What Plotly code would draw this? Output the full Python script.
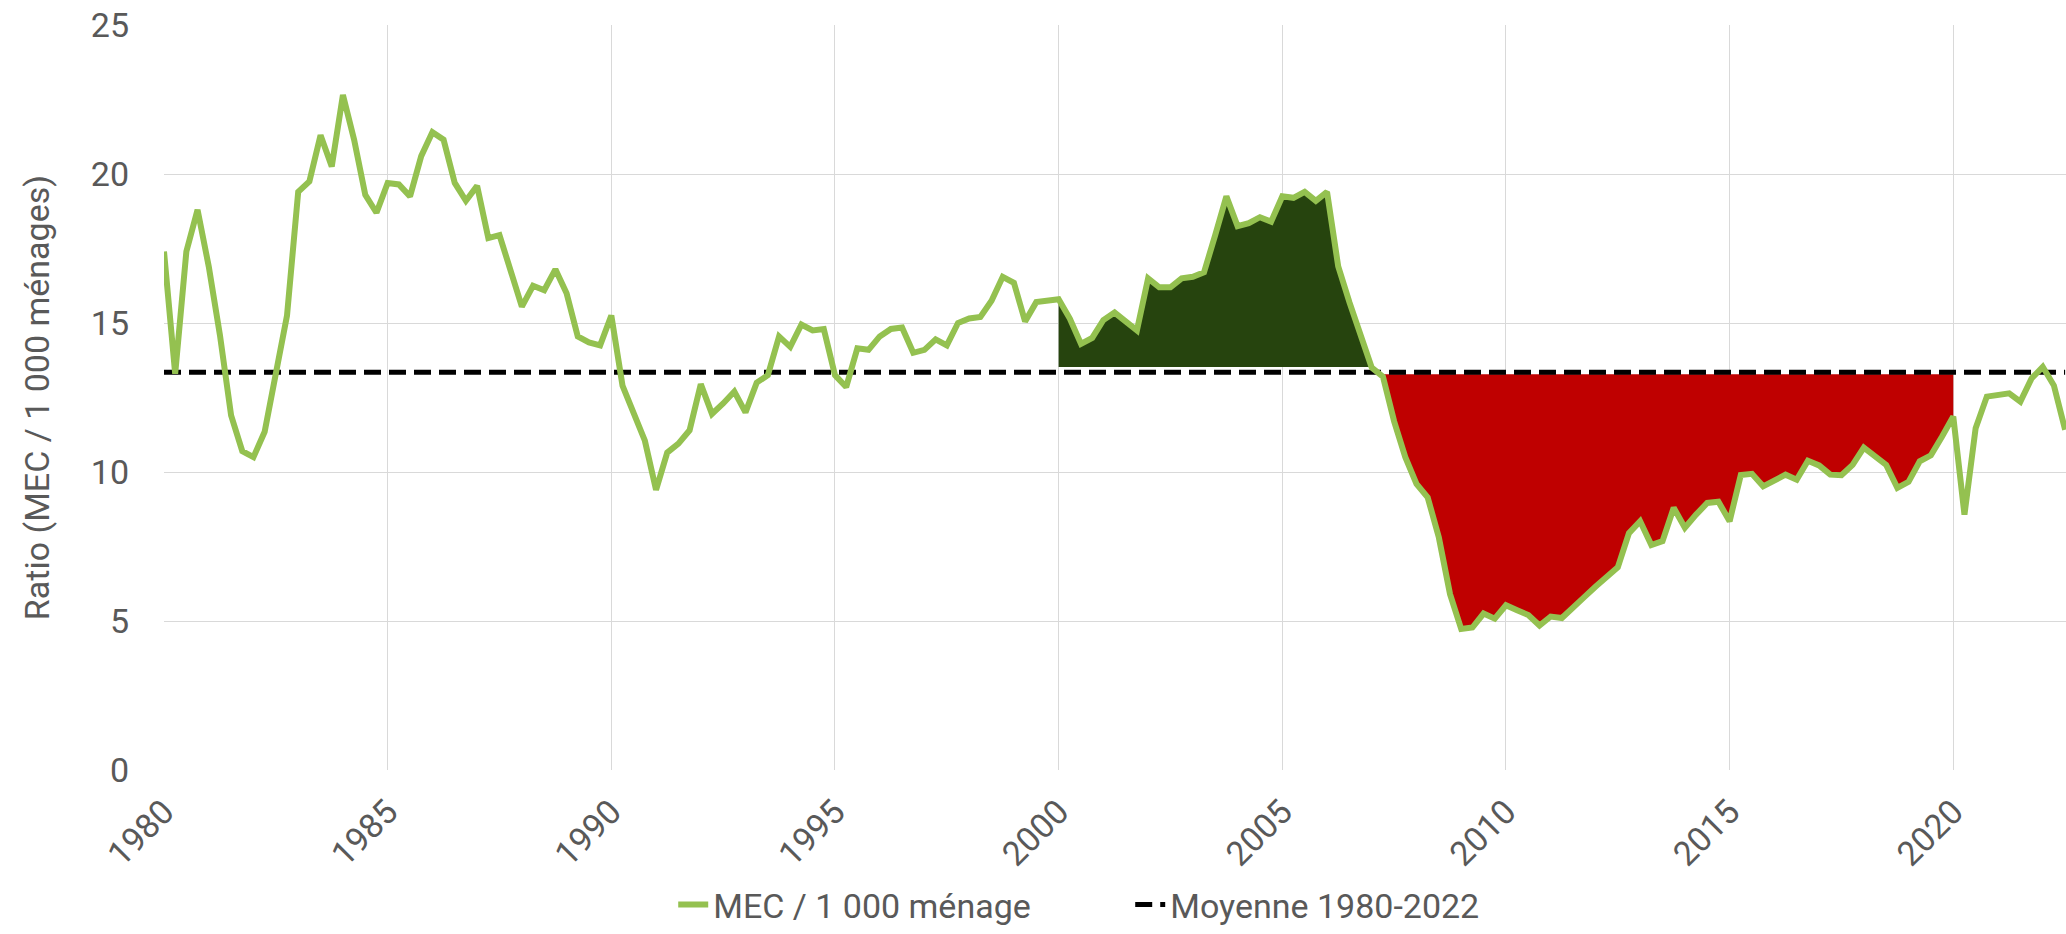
import plotly.graph_objects as go

# ---------------- data ----------------
first_year = 1980
quarters_per_year = 4

# MEC / 1 000 ménages, quarterly from 1980T1 to 2022T3
ratio = [
    17.4, 13.3, 17.4, 18.8, 16.9, 14.6, 11.9, 10.7, 10.5, 11.35,
    13.3, 15.25, 19.4, 19.75, 21.3, 20.25, 22.65, 21.15, 19.3, 18.7,
    19.7, 19.65, 19.25, 20.6, 21.4, 21.15, 19.7, 19.1, 19.6, 17.85,
    17.95, 16.8, 15.55, 16.25, 16.1, 16.8, 16.0, 14.55, 14.35, 14.25,
    15.25, 12.9, 11.95, 11.05, 9.4, 10.65, 10.95, 11.4, 12.95, 11.95,
    12.3, 12.7, 12.0, 13.0, 13.25, 14.55, 14.2, 14.95, 14.75, 14.8,
    13.25, 12.85, 14.15, 14.1, 14.55, 14.8, 14.85, 14.0, 14.1, 14.45,
    14.25, 15.0, 15.15, 15.2, 15.75, 16.55, 16.35, 15.05, 15.7, 15.75,
    15.8, 15.15, 14.3, 14.5, 15.1, 15.35, 15.05, 14.75, 16.5, 16.2,
    16.2, 16.5, 16.55, 16.7, 17.95, 19.25, 18.25, 18.35, 18.55, 18.4,
    19.25, 19.2, 19.4, 19.1, 19.4, 16.9, 15.7, 14.6, 13.5, 13.2,
    11.7, 10.5, 9.6, 9.15, 7.8, 5.9, 4.73, 4.78, 5.25, 5.08,
    5.53, 5.36, 5.2, 4.85, 5.15, 5.1, 5.42, 5.8, 6.15, 6.45,
    6.8, 7.95, 8.35, 7.55, 7.68, 8.8, 8.13, 8.57, 8.96, 9.0,
    8.35, 9.9, 9.94, 9.52, 9.71, 9.91, 9.74, 10.38, 10.22, 9.91,
    9.89, 10.24, 10.82, 10.53, 10.24, 9.47, 9.67, 10.36, 10.56, 11.19,
    11.86, 8.57, 11.47, 12.53, 12.59, 12.64, 12.36, 13.14, 13.53, 12.9,
    11.42,
]

mean_1980_2022 = 13.35

# shaded periods (quarter labels)
above_period = ("2000T1", "2007T1")   # dark green area
below_period = ("2007T2", "2020T1")   # red area
above_base = 13.52
below_base = 13.28

series_name = "MEC / 1 000 ménage"
mean_name = "Moyenne 1980-2022"
y_title = "Ratio (MEC / 1 000 ménages)"
y_ticks = [0, 5, 10, 15, 20, 25]
x_ticks = [1980, 1985, 1990, 1995, 2000, 2005, 2010, 2015, 2020]

# ---------------- derived positions ----------------
labels = [f"{first_year + i // quarters_per_year}T{i % quarters_per_year + 1}"
          for i in range(len(ratio))]
xpos = [first_year + i / quarters_per_year for i in range(len(ratio))]


def span(period):
    a = labels.index(period[0])
    b = labels.index(period[1])
    return a, b + 1


FONT = "Roboto, sans-serif"
FS = 34
GREY = "#595959"
LINE_GREEN = "#94C150"
DARK_GREEN = "#26440E"
RED = "#BF0000"

fig = go.Figure()

# dark green area (above the mean)
a, b = span(above_period)
fig.add_trace(go.Scatter(x=xpos[a:b], y=[above_base] * (b - a), mode="lines",
                         line=dict(width=0), showlegend=False, hoverinfo="skip"))
fig.add_trace(go.Scatter(x=xpos[a:b], y=ratio[a:b], mode="lines",
                         line=dict(width=0), fill="tonexty", fillcolor=DARK_GREEN,
                         showlegend=False, hoverinfo="skip"))

# red area (below the mean)
a, b = span(below_period)
fig.add_trace(go.Scatter(x=xpos[a:b], y=[below_base] * (b - a), mode="lines",
                         line=dict(width=0), showlegend=False, hoverinfo="skip"))
fig.add_trace(go.Scatter(x=xpos[a:b], y=ratio[a:b], mode="lines",
                         line=dict(width=0), fill="tonexty", fillcolor=RED,
                         showlegend=False, hoverinfo="skip"))

# mean line
fig.add_trace(go.Scatter(x=xpos, y=[mean_1980_2022] * len(xpos), mode="lines",
                         name=mean_name,
                         line=dict(color="#000000", width=5, dash="17px,8px")))

# main series
fig.add_trace(go.Scatter(x=xpos, y=ratio, mode="lines", name=series_name,
                         line=dict(color=LINE_GREEN, width=6)))

fig.update_layout(
    width=2066, height=934,
    margin=dict(l=164, r=0, t=25, b=161),
    paper_bgcolor="white", plot_bgcolor="white",
    font=dict(family=FONT, size=FS, color=GREY),
    showlegend=True,
    legend=dict(orientation="h", x=0.508, y=-0.182, xanchor="center",
                yanchor="middle", traceorder="reversed",
                font=dict(family=FONT, size=FS, color=GREY),
                entrywidth=412, entrywidthmode="pixels",
                bgcolor="rgba(0,0,0,0)"),
    xaxis=dict(range=[1980, 2022.52], tickmode="array", tickvals=x_ticks,
               ticktext=[str(t) for t in x_ticks], tickangle=-45,
               showgrid=True, gridcolor="#D9D9D9", gridwidth=1.3,
               zeroline=False, showline=False, ticks="",
               ticklabelstandoff=14,
               tickfont=dict(family=FONT, size=FS, color=GREY)),
    yaxis=dict(range=[0, 25], tickmode="array", tickvals=y_ticks,
               showgrid=True, gridcolor="#D9D9D9", gridwidth=1.3,
               zeroline=False, showline=False, ticks="",
               ticklabelstandoff=34,
               tickfont=dict(family=FONT, size=FS, color=GREY),
               title=dict(text=y_title, standoff=30,
                          font=dict(family=FONT, size=FS, color=GREY))),
)

fig.write_html("out.html", include_plotlyjs=True,
               config={"displayModeBar": False},
               post_script="document.body.style.margin='0';document.body.style.overflow='hidden';")
